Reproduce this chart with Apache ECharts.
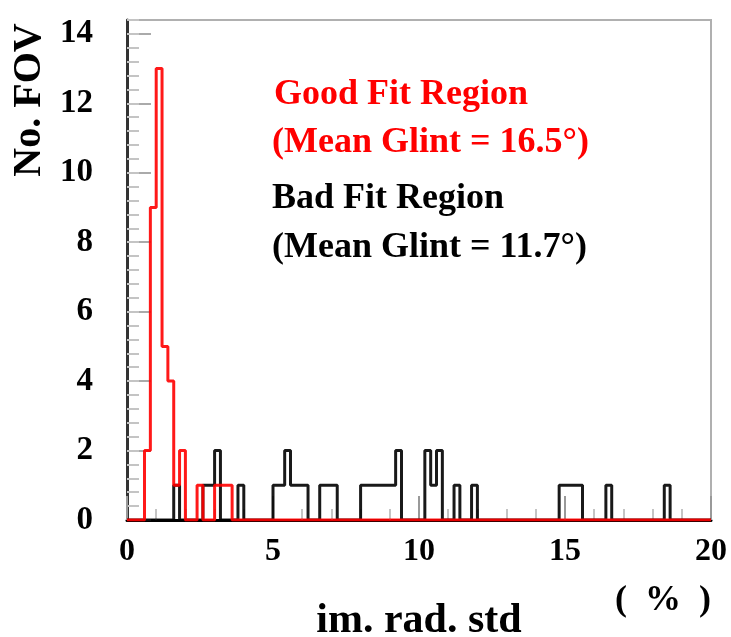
<!DOCTYPE html>
<html>
<head>
<meta charset="utf-8">
<script src="https://cdn.jsdelivr.net/npm/echarts@6/dist/echarts.min.js"></script>
<style>
  html, body { margin: 0; padding: 0; background: #fff; }
  #chart { width: 731px; height: 637px; }
</style>
</head>
<body>
<div id="chart"></div>
<script>
// histogram bins are 0.2 wide, from 0 to 20
var binWidth = 0.2;
var xMax = 20;

// good fit region (red): bin start -> count
var goodStarts = [0.6, 0.8, 1.0, 1.2, 1.4, 1.6, 1.8, 2.4, 3.0, 3.2, 3.4];
var goodCounts = [2, 9, 13, 5, 4, 1, 2, 1, 1, 1, 1];

// bad fit region (black)
var badStarts = [1.6, 2.6, 2.8, 3.0, 3.8, 5.0, 5.2, 5.4, 5.6, 5.8, 6.0, 6.6, 6.8, 7.0,
                 8.0, 8.2, 8.4, 8.6, 8.8, 9.0, 9.2, 10.2, 10.4, 10.6, 11.2, 11.8,
                 14.8, 15.0, 15.2, 15.4, 16.4, 18.4];
var badCounts = [1, 1, 1, 2, 1, 1, 1, 2, 1, 1, 1, 1, 1, 1,
                 1, 1, 1, 1, 1, 1, 2, 2, 1, 2, 1, 1,
                 1, 1, 1, 1, 1, 1];

var legendLines = ['Good Fit Region', '(Mean Glint = 16.5\u00b0)', 'Bad Fit Region', '(Mean Glint = 11.7\u00b0)'];

var FONT = '"Liberation Serif", "DejaVu Serif", serif';

function pasos(starts, counts) {
    var nBins = Math.round(xMax / binWidth);
    var vals = [];
    for (var i = 0; i < nBins; i++) vals.push(0);
    starts.forEach(function (s, k) {
        vals[Math.round(s / binWidth)] = counts[k];
    });
    var pts = vals.map(function (v, i) {
        return [Math.round(i * binWidth * 10) / 10, v];
    });
    pts.push([xMax, 0]);
    return pts;
}

var chart = echarts.init(document.getElementById('chart'), null, { renderer: 'canvas' });

var option = {
    animation: false,
    backgroundColor: '#fff',
    grid: {
        left: 127, right: 20, top: 20, bottom: 117,
        outerBoundsMode: 'none',
        containLabel: false,
        show: true, borderColor: '#b0b0b0', borderWidth: 2, backgroundColor: 'transparent'
    },
    xAxis: [{
        type: 'value',
        min: 0, max: 20, interval: 5,
        name: 'im. rad. std',
        nameLocation: 'middle',
        nameGap: 80,
        nameTextStyle: { fontFamily: FONT, fontWeight: 'bold', fontSize: 42, color: '#000' },
        axisLine: { onZero: false, lineStyle: { color: '#000', width: 3 } },
        axisTick: { inside: true, length: 24, lineStyle: { color: '#999', width: 2 } },
        minorTick: { show: true, splitNumber: 5, length: 11, lineStyle: { color: '#c4c4c4', width: 2 } },
        axisLabel: { fontFamily: FONT, fontWeight: 'bold', fontSize: 32, color: '#000', margin: 16 },
        splitLine: { show: false }
    }],
    yAxis: [{
        type: 'value',
        min: 0, max: 14.4, interval: 2,
        axisLine: { onZero: false, lineStyle: { color: '#333', width: 3 } },
        axisTick: { inside: true, length: 24, lineStyle: { color: '#aaa', width: 2 } },
        axisLabel: {
            fontFamily: FONT, fontWeight: 'bold', fontSize: 33, color: '#000', margin: 34,
            showMaxLabel: false
        },
        splitLine: { show: false }
    }, {
        // minor ticks every 0.4
        type: 'value',
        position: 'left',
        min: 0, max: 14.4, interval: 0.4,
        axisLine: { show: false },
        axisTick: { inside: true, length: 12, lineStyle: { color: '#c4c4c4', width: 2 } },
        axisLabel: { show: false },
        splitLine: { show: false }
    }],
    graphic: [{
        type: 'text',
        x: 30, y: 100,
        rotation: Math.PI / 2,
        style: {
            text: 'No. FOV', fill: '#000',
            font: 'bold 40px ' + FONT,
            textAlign: 'center', textVerticalAlign: 'middle'
        }
    }, {
        type: 'text',
        x: 663, y: 601,
        style: {
            text: '(  %  )', fill: '#000',
            font: 'bold 36px ' + FONT,
            textAlign: 'center', textVerticalAlign: 'middle'
        }
    }, {
        type: 'text', x: 274, y: 95,
        style: { text: legendLines[0], fill: '#ff0000', font: 'bold 36px ' + FONT, textVerticalAlign: 'middle' }
    }, {
        type: 'text', x: 272, y: 143,
        style: { text: legendLines[1], fill: '#ff0000', font: 'bold 36px ' + FONT, textVerticalAlign: 'middle' }
    }, {
        type: 'text', x: 272, y: 199,
        style: { text: legendLines[2], fill: '#000', font: 'bold 36px ' + FONT, textVerticalAlign: 'middle' }
    }, {
        type: 'text', x: 272, y: 248,
        style: { text: legendLines[3], fill: '#000', font: 'bold 36px ' + FONT, textVerticalAlign: 'middle' }
    }],
    series: [{
        name: 'Bad Fit Region',
        type: 'line',
        step: 'end',
        symbol: 'none',
        data: pasos(badStarts, badCounts),
        lineStyle: { color: '#000', width: 3, opacity: 0.9 },
        z: 2
    }, {
        name: 'Good Fit Region',
        type: 'line',
        step: 'end',
        symbol: 'none',
        data: pasos(goodStarts, goodCounts),
        lineStyle: { color: '#ff0000', width: 3, opacity: 0.9 },
        z: 3
    }]
};

chart.setOption(option);
</script>
</body>
</html>
